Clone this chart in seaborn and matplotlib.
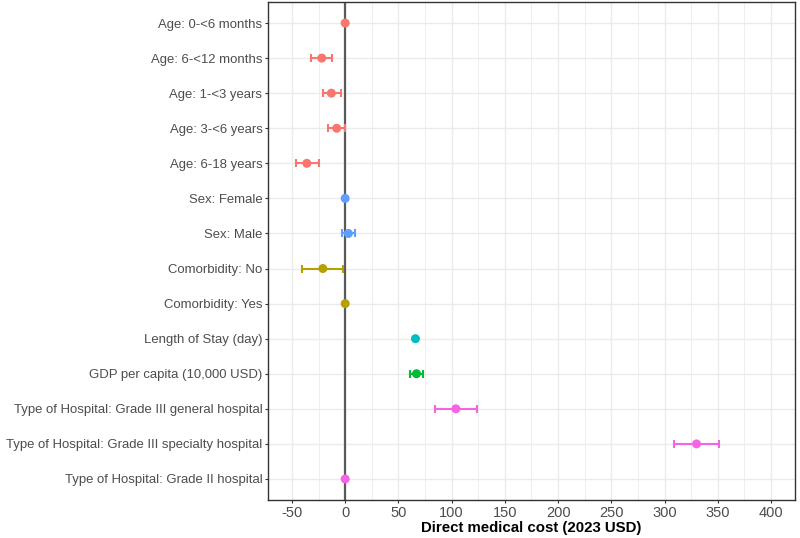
import matplotlib
matplotlib.use("Agg")
import matplotlib.pyplot as plt
import seaborn as sns
import numpy as np
import pandas as pd

labels = [
    "Age: 0-<6 months",
    "Age: 6-<12 months",
    "Age: 1-<3 years",
    "Age: 3-<6 years",
    "Age: 6-18 years",
    "Sex: Female",
    "Sex: Male",
    "Comorbidity: No",
    "Comorbidity: Yes",
    "Length of Stay (day)",
    "GDP per capita (10,000 USD)",
    "Type of Hospital: Grade III general hospital",
    "Type of Hospital: Grade III specialty hospital",
    "Type of Hospital: Grade II hospital",
]
groups = ["Age", "Age", "Age", "Age", "Age", "Sex", "Sex", "Comorbidity", "Comorbidity",
          "LOS", "GDP", "Hospital", "Hospital", "Hospital"]
estimate = [0, -22, -13, -8, -36, 0, 3, -21, 0, 66, 67, 104, 330, 0]
lower = [np.nan, -32, -21, -16, -46, np.nan, -3, -41, np.nan, 65.4, 61, 84, 309, np.nan]
upper = [np.nan, -12, -4, -0.5, -25, np.nan, 9, -2, np.nan, 66.6, 73, 124, 351, np.nan]

group_order = ["Age", "Comorbidity", "GDP", "LOS", "Sex", "Hospital"]
palette = dict(zip(group_order, ["#F8766D", "#B79F00", "#00BA38", "#00BFC4", "#619CFF", "#F564E3"]))

df = pd.DataFrame({"label": labels, "group": groups, "est": estimate, "lo": lower, "hi": upper})
df["pos"] = np.arange(len(df))

sns.set_theme(style="white")
plt.rcParams["font.family"] = ["Liberation Sans", "DejaVu Sans"]

fig = plt.figure(figsize=(8, 5.38), dpi=100)
ax = fig.add_axes([268 / 800, 1 - 500 / 538, (795 - 268) / 800, (500 - 2) / 538])

# grid (theme_bw style)
for v in np.arange(-75, 425, 25):
    ax.axvline(v, color="#EBEBEB", lw=0.6 if v % 50 else 1.0, zorder=0)
for p in df["pos"]:
    ax.axhline(p, color="#EBEBEB", lw=1.0, zorder=0)

ax.axvline(0, color="#5A5A5A", lw=1.6, zorder=1)

for _, r in df.iterrows():
    if not np.isnan(r["lo"]):
        ax.errorbar(r["est"], r["pos"], xerr=[[r["est"] - r["lo"]], [r["hi"] - r["est"]]],
                    fmt="none", ecolor=palette[r["group"]], elinewidth=1.5, capsize=3,
                    capthick=1.5, zorder=2)

sns.scatterplot(data=df, x="est", y="pos", hue="group", palette=palette, s=42,
                edgecolor="none", legend=False, ax=ax, zorder=3)

ax.set_xlim(-72.5, 422.5)
ax.set_ylim(len(df) - 1 + 0.6, -0.6)
ax.set_yticks(df["pos"])
ax.set_yticklabels(labels)
ax.set_xticks(np.arange(-50, 401, 50))
ax.set_xticklabels([str(v) for v in range(-50, 401, 50)])
ax.tick_params(axis="both", which="major", length=2.5, width=0.8, color="#333333",
               labelcolor="#4D4D4D", pad=1.5, left=True, bottom=True)
ax.tick_params(axis="x", labelsize=10.5)
ax.tick_params(axis="y", labelsize=9.45)
for s in ax.spines.values():
    s.set_color("#333333")
    s.set_linewidth(1.0)
ax.set_ylabel("")
ax.set_xlabel("Direct medical cost (2023 USD)", fontsize=10.8, fontweight="bold",
              color="black", labelpad=1)

fig.savefig("out.png", dpi=100)
